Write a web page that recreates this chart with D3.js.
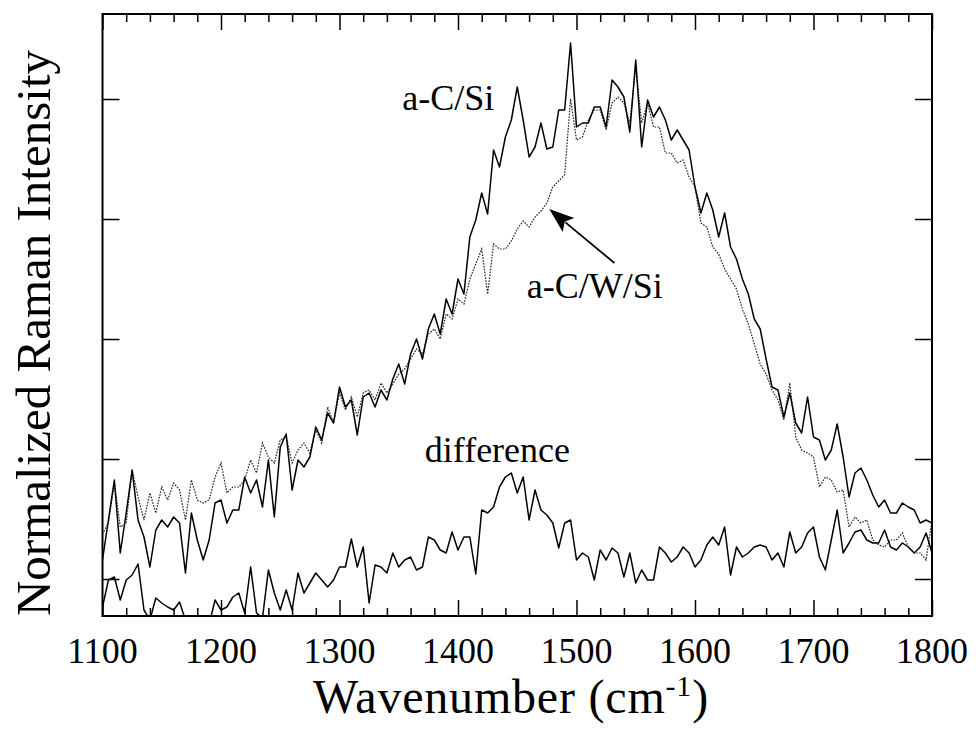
<!DOCTYPE html>
<html><head><meta charset="utf-8">
<script src="https://cdn.jsdelivr.net/npm/d3@7"></script>
<style>body{margin:0;background:#fff}</style>
</head><body>
<svg id="chart" width="976" height="738"></svg>
<script>
// ---- data (wavenumber grid in cm^-1, 5 cm^-1 steps) ----
const wnStart = 1100, wnEnd = 1800, wnStep = 5;
const wavenumbers = d3.range(wnStart, wnEnd + 1, wnStep);

// a-C/Si (solid)
const aCSi = [
  19,59,99,26,66,109,59,42,12,49,
  59,52,62,56,6,66,39,19,39,76,
  79,56,69,69,102,86,99,72,119,62,
  132,145,89,119,112,122,152,139,166,156,
  192,172,179,144,182,186,172,189,179,200,
  215,195,225,240,220,250,265,245,280,265,
  300,285,342,359,386,365,429,412,442,459,
  492,459,422,432,456,430,432,469,469,536,
  452,456,456,472,472,452,499,492,482,447,
  519,432,479,462,472,459,439,449,439,429,
  392,366,386,369,342,366,332,320,300,285,
  260,250,220,192,189,162,186,156,146,182,
  142,139,119,129,155,122,82,106,111,99,
  84,72,79,66,66,76,72,69,56,59,
  56
];
// a-C/W/Si (dotted)
const aCWSi = [
  45,56,96,52,56,109,82,59,86,66,
  92,79,96,89,59,99,79,76,79,102,
  116,86,92,92,99,119,106,136,122,116,
  139,142,116,129,136,126,149,136,172,156,
  186,169,182,162,186,189,179,196,186,195,
  205,210,220,230,225,245,250,240,265,260,
  280,275,300,315,330,285,335,330,330,338,
  350,358,352,362,368,376,392,398,404,480,
  439,442,459,469,469,449,476,482,476,456,
  512,456,476,452,452,426,426,416,419,402,
  392,356,352,332,325,310,300,290,270,255,
  235,215,205,189,179,159,196,142,129,126,
  122,92,102,99,87,89,52,62,56,59,
  39,34,32,39,39,46,32,26,26,19,
  59
];
// difference (solid)
const difference = [
  -28,-1,2,-21,-1,4,15,-31,-41,-19,
  -24,-28,-31,-23,-41,-48,-45,-48,-45,-21,
  -31,-28,-18,-14,-34,12,-34,-39,9,-14,
  -31,-11,-31,6,-14,-4,6,-1,-8,-1,
  12,12,40,12,32,-24,14,12,6,26,
  12,19,22,9,12,42,39,29,26,47,
  29,42,42,5,69,66,72,92,102,106,
  86,102,59,89,69,64,56,31,56,59,
  19,26,22,-1,29,19,31,26,2,26,
  -4,9,-1,-1,32,26,17,22,32,26,
  12,19,34,42,34,52,4,32,22,26,
  32,34,32,19,26,12,47,26,32,46,
  52,22,9,39,69,26,36,47,49,39,
  36,36,49,32,29,36,32,26,32,46,
  26
];

const xTickLabels = [1100,1200,1300,1400,1500,1600,1700,1800];
const xMinorStep = 20;
const yTicks = [0,120,240,360,480];
const yDomain = [-37, 565];

// annotation anchors (data coordinates)
const labels = [
  {text:"a-C/Si", wn:1353, v:469},
  {text:"a-C/W/Si", wn:1458, v:281},
  {text:"difference", wn:1372, v:117}
];
const arrowFrom = [1532, 316];
const arrowTo = [1477, 370];

// ---- layout ----
const svg = d3.select("#chart");
const W = 976, H = 738;
const m = {left:102.5, right:W-932, top:14, bottom:H-616};
const pw = W - m.left - m.right, ph = H - m.top - m.bottom;
const font = '"Liberation Serif", "Times New Roman", Tinos, serif';

const x = d3.scaleLinear().domain([wnStart, wnEnd]).range([m.left, m.left+pw]);
const y = d3.scaleLinear().domain(yDomain).range([m.top+ph, m.top]);

svg.append("clipPath").attr("id","clip").append("rect")
  .attr("x", m.left).attr("y", m.top).attr("width", pw).attr("height", ph);

const g = svg.append("g").attr("clip-path","url(#clip)");
const mk = arr => arr.map((v,i)=>[wavenumbers[i], v]);
const line = d3.line().x(d=>x(d[0])).y(d=>y(d[1]));

g.append("path").datum(mk(aCWSi)).attr("d", line)
  .attr("fill","none").attr("stroke","#222").attr("stroke-width",1.2)
  .attr("stroke-dasharray","1.6,1.3");
g.append("path").datum(mk(aCSi)).attr("d", line)
  .attr("fill","none").attr("stroke","#000").attr("stroke-width",1.5)
  .attr("stroke-linejoin","round");
g.append("path").datum(mk(difference)).attr("d", line)
  .attr("fill","none").attr("stroke","#000").attr("stroke-width",1.5)
  .attr("stroke-linejoin","round");

// ---- axes (ticks inside on all sides) ----
const majorVals = xTickLabels;
const minorVals = d3.range(wnStart, wnEnd + 1, xMinorStep).filter(v => !majorVals.includes(v));

function xAxis(gen, ticks, size) {
  return gen(x).tickValues(ticks).tickSize(size).tickFormat("");
}
const bottomY = m.top + ph, topY = m.top;
svg.append("g").attr("transform",`translate(0,${bottomY})`).call(xAxis(d3.axisTop, minorVals, 8));
svg.append("g").attr("transform",`translate(0,${bottomY})`).call(xAxis(d3.axisTop, majorVals, 16));
svg.append("g").attr("transform",`translate(0,${topY})`).call(xAxis(d3.axisBottom, minorVals, 8));
svg.append("g").attr("transform",`translate(0,${topY})`).call(xAxis(d3.axisBottom, majorVals, 16));
svg.append("g").attr("transform",`translate(${m.left},0)`)
  .call(d3.axisRight(y).tickValues(yTicks).tickSize(17).tickFormat(""));
svg.append("g").attr("transform",`translate(${m.left+pw},0)`)
  .call(d3.axisLeft(y).tickValues(yTicks).tickSize(17).tickFormat(""));
svg.selectAll(".domain").remove();
svg.selectAll(".tick line").attr("stroke","#000").attr("stroke-width",1.5);

// frame
svg.append("rect").attr("x", m.left).attr("y", m.top).attr("width", pw).attr("height", ph)
  .attr("fill","none").attr("stroke","#000").attr("stroke-width",2);

// x tick labels
svg.append("g").selectAll("text").data(xTickLabels).join("text")
  .attr("x", d=>x(d)).attr("y", 663)
  .attr("text-anchor","middle").style("font-family", font).attr("font-size", 36)
  .text(d=>d);

// axis titles
const xt = svg.append("text").attr("x", 511).attr("y", 713)
  .attr("text-anchor","middle").style("font-family", font).attr("font-size", 48)
  .attr("letter-spacing", 0.8);
xt.append("tspan").text("Wavenumber (cm");
xt.append("tspan").attr("dy", -17).attr("font-size", 30).text("-1");
xt.append("tspan").attr("dy", 17).text(")");

svg.append("text").attr("transform", `translate(50,333) rotate(-90)`)
  .attr("text-anchor","middle").style("font-family", font).attr("font-size", 49)
  .text("Normalized Raman Intensity");

// curve labels
svg.append("g").selectAll("text").data(labels).join("text")
  .attr("x", d=>x(d.wn)).attr("y", d=>y(d.v))
  .style("font-family", font).attr("font-size", 36).text(d=>d.text);

// arrow
const ax1 = x(arrowFrom[0]), ay1 = y(arrowFrom[1]);
const ax2 = x(arrowTo[0]), ay2 = y(arrowTo[1]);
const len = Math.hypot(ax2-ax1, ay2-ay1);
const ux = (ax2-ax1)/len, uy = (ay2-ay1)/len;
const hl = 25, hw = 9;
const bx = ax2 - ux*hl, by = ay2 - uy*hl;
svg.append("line").attr("x1", ax1).attr("y1", ay1).attr("x2", bx + ux*4).attr("y2", by + uy*4)
  .attr("stroke","#000").attr("stroke-width",1.8);
svg.append("polygon")
  .attr("points", [[ax2,ay2],[bx - uy*hw, by + ux*hw],[bx + ux*5, by + uy*5],[bx + uy*hw, by - ux*hw]].map(p=>p.join(",")).join(" "))
  .attr("fill","#000");
</script>
</body></html>
